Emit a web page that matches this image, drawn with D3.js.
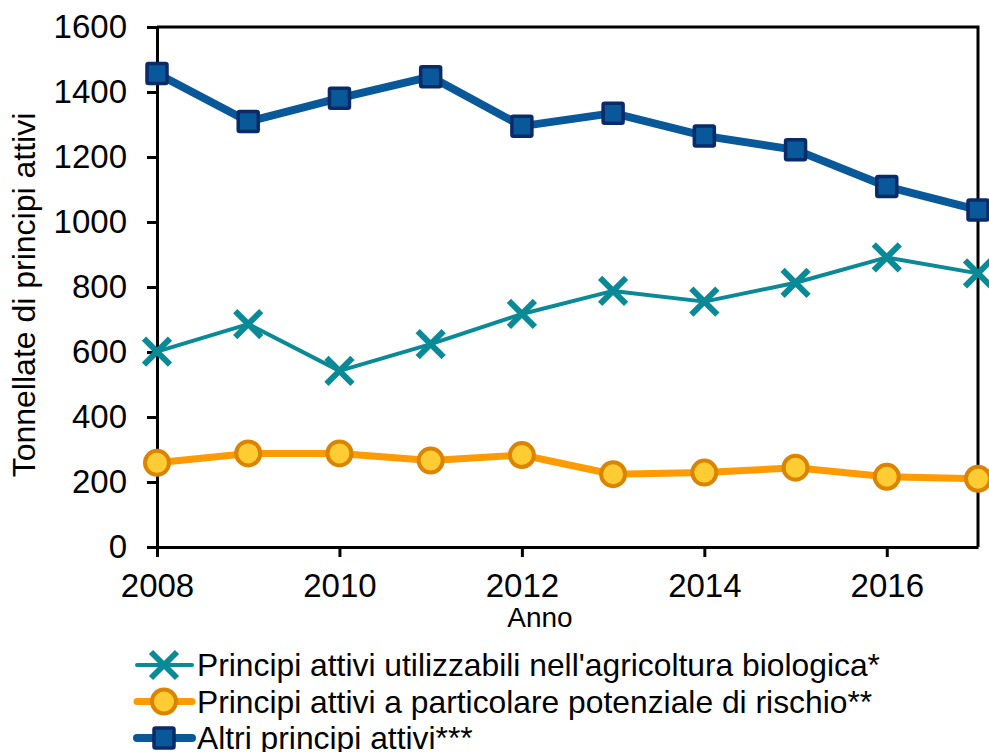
<!DOCTYPE html>
<html lang="it">
<head>
<meta charset="UTF-8">
<title>Principi attivi</title>
<script src="https://d3js.org/d3.v7.min.js"></script>
<style>
  body { margin: 0; background: #fff; }
  svg { display: block; font-family: 'Liberation Sans', Arial, sans-serif; }
  .axis text { font-size: 33px; fill: #000; }
  .axis path, .axis line { stroke: #000; stroke-width: 3; }
</style>
</head>
<body>
<svg id="chart" width="989" height="752"></svg>
<script>
  // dati
  const years = [2008, 2009, 2010, 2011, 2012, 2013, 2014, 2015, 2016, 2017];
  const biologica = [601, 686, 542, 624, 717, 788, 755, 813, 891, 842];
  const rischio = [259, 288, 288, 266, 283, 224, 229, 244, 216, 210];
  const altri = [1457, 1309, 1381, 1447, 1295, 1335, 1265, 1222, 1109, 1037];
  const yTicks = [0, 200, 400, 600, 800, 1000, 1200, 1400, 1600];
  const xTicks = [2008, 2010, 2012, 2014, 2016];
  const seriesNames = [
    "Principi attivi utilizzabili nell'agricoltura biologica*",
    "Principi attivi a particolare potenziale di rischio**",
    "Altri principi attivi***"
  ];

  const svg = d3.select("#chart");
  const margin = { top: 27, right: 11, bottom: 205, left: 157 };
  const width = 989 - margin.left - margin.right;
  const height = 752 - margin.top - margin.bottom;

  const x = d3.scaleLinear().domain([2008, 2017]).range([0, width]);
  const y = d3.scaleLinear().domain([0, 1600]).range([height, 0]);

  const g = svg.append("g").attr("transform", `translate(${margin.left},${margin.top})`);

  // bordo del riquadro (alto e destra)
  g.append("path")
    .attr("d", `M0,0H${width}V${height}`)
    .attr("fill", "none")
    .attr("stroke", "#000")
    .attr("stroke-width", 3);

  g.append("g")
    .attr("class", "axis")
    .attr("transform", `translate(0,${height})`)
    .call(d3.axisBottom(x).tickValues(xTicks).tickFormat(d3.format("d")).tickSize(10).tickSizeOuter(0).tickPadding(17));

  g.append("g")
    .attr("class", "axis")
    .call(d3.axisLeft(y).tickValues(yTicks).tickFormat(d3.format("d")).tickSize(10).tickSizeOuter(0).tickPadding(20));

  svg.append("text")
    .attr("transform", `translate(35,295) rotate(-90)`)
    .attr("text-anchor", "middle")
    .style("font-size", "32px")
    .text("Tonnellate di principi attivi");

  svg.append("text")
    .attr("x", 540)
    .attr("y", 627)
    .attr("text-anchor", "middle")
    .style("font-size", "28px")
    .text("Anno");

  const series = [
    { name: seriesNames[0], values: biologica, line: "#0A8A96", width: 4, marker: "x" },
    { name: seriesNames[1], values: rischio, line: "#FF9A00", width: 7, marker: "circle", fill: "#FFCC33", stroke: "#DA8400" },
    { name: seriesNames[2], values: altri, line: "#08589A", width: 8, marker: "square", fill: "#08589A", stroke: "#0A2A68" }
  ];

  const line = d3.line().x((d, i) => x(years[i])).y(d => y(d));

  function drawMarker(sel, s) {
    if (s.marker === "x") {
      sel.append("path")
        .attr("d", "M-13,-13L13,13M-13,13L13,-13")
        .attr("stroke", s.line)
        .attr("stroke-width", 6)
        .attr("fill", "none");
    } else if (s.marker === "circle") {
      sel.append("circle")
        .attr("r", 12)
        .attr("fill", s.fill)
        .attr("stroke", s.stroke)
        .attr("stroke-width", 4);
    } else {
      sel.append("rect")
        .attr("x", -10).attr("y", -10)
        .attr("width", 20).attr("height", 20)
        .attr("rx", 1.5)
        .attr("fill", s.fill)
        .attr("stroke", s.stroke)
        .attr("stroke-width", 3.5);
    }
  }

  series.forEach(s => {
    g.append("path")
      .datum(s.values)
      .attr("fill", "none")
      .attr("stroke", s.line)
      .attr("stroke-width", s.width)
      .attr("stroke-linejoin", "round")
      .attr("d", line);

    g.selectAll(null)
      .data(s.values)
      .enter()
      .append("g")
      .attr("transform", (d, i) => `translate(${x(years[i])},${y(d)})`)
      .each(function () { drawMarker(d3.select(this), s); });
  });

  // legenda
  const legend = svg.append("g").attr("transform", "translate(137,665)");
  series.forEach((s, i) => {
    const row = legend.append("g").attr("transform", `translate(0,${i * 36.5})`);
    row.append("line")
      .attr("x1", 0).attr("x2", 55)
      .attr("stroke", s.line)
      .attr("stroke-width", s.width)
      .attr("stroke-linecap", "round");
    const m = row.append("g").attr("transform", "translate(27,0)");
    drawMarker(m, s);
    row.append("text")
      .attr("x", 60)
      .attr("y", 11)
      .style("font-size", "31.8px")
      .text(s.name);
  });
</script>
</body>
</html>
